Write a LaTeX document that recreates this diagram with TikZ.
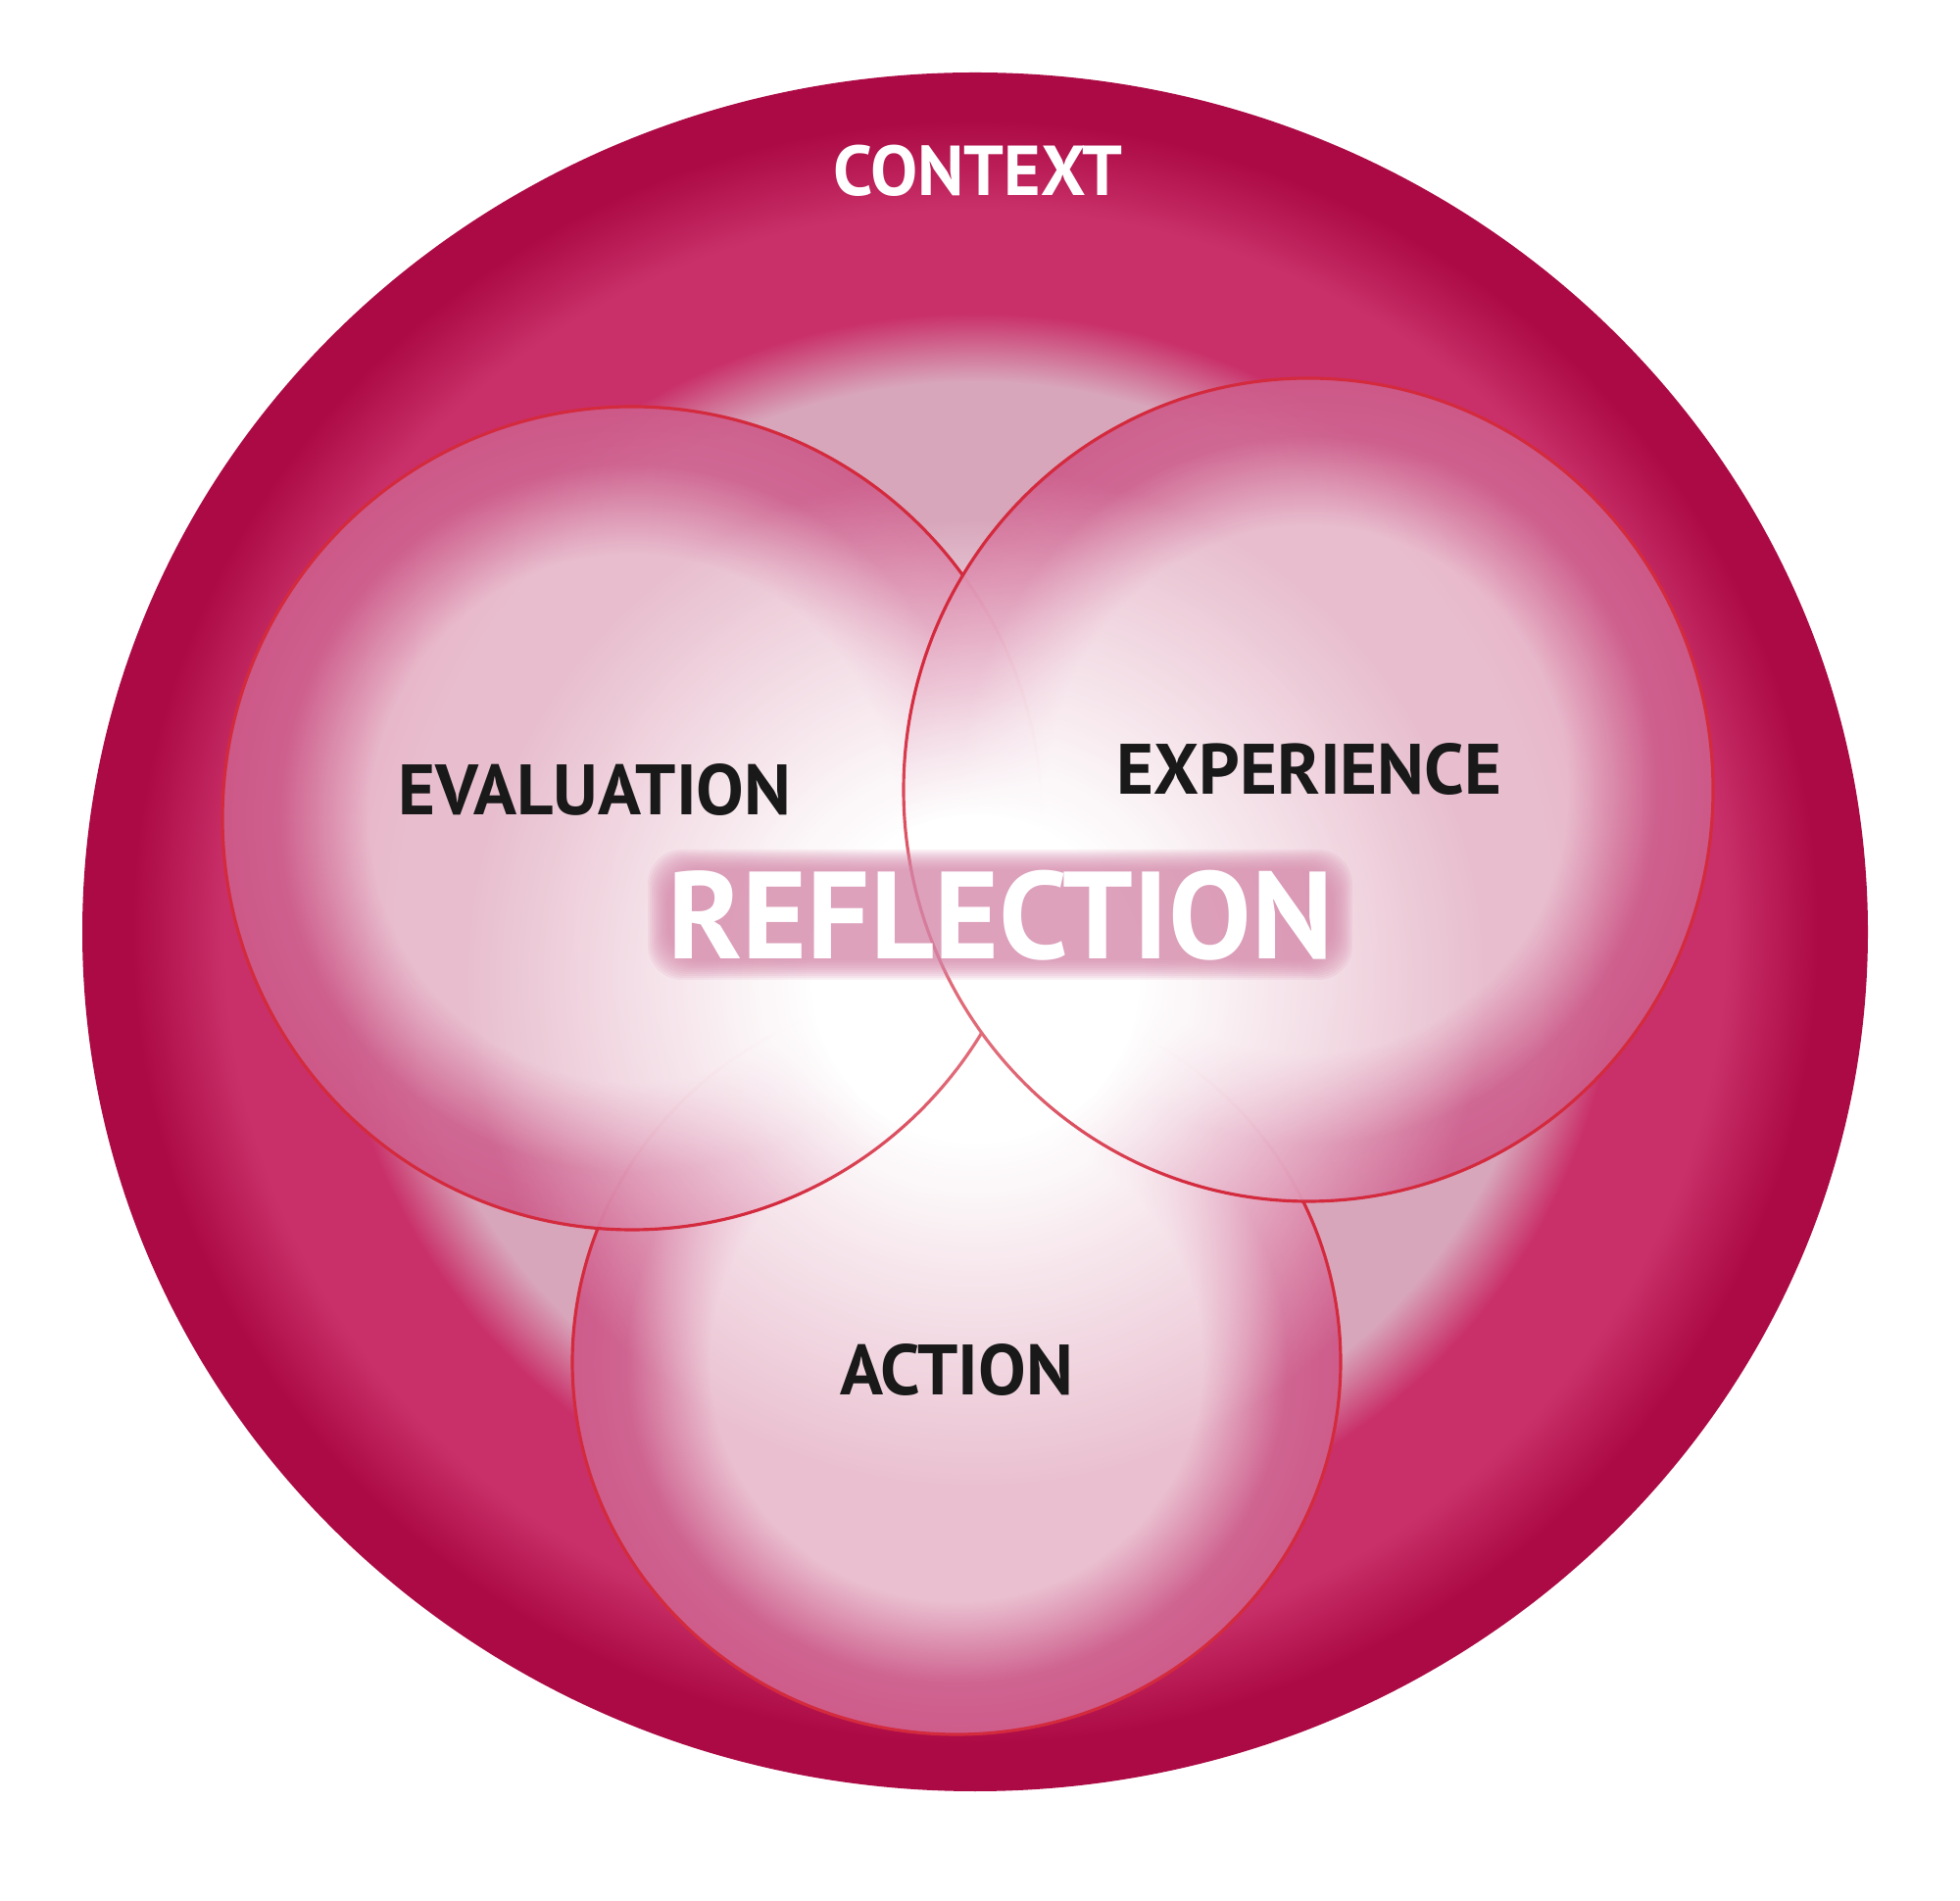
\documentclass[tikz,border=0pt]{standalone}
\usepackage{fontspec}
\setsansfont{PT Sans}
\usetikzlibrary{positioning,fadings}

\definecolor{ringdark}{RGB}{172,10,68}
\definecolor{ringpink}{RGB}{201,48,105}
\definecolor{ringgrey}{RGB}{216,166,187}
\definecolor{rimpink}{RGB}{207,100,145}
\definecolor{lightpink}{RGB}{234,192,208}
\definecolor{edgered}{RGB}{212,42,62}
\definecolor{halopink}{RGB}{214,136,170}

\pgfdeclareradialshading{contextring}{\pgfpoint{0bp}{0bp}}{color(0bp)=(white); color(6bp)=(white); color(12bp)=(ringgrey); color(16bp)=(ringgrey); color(18bp)=(ringpink); color(21bp)=(ringpink); color(23.6bp)=(ringdark); color(25bp)=(ringdark); color(50bp)=(ringdark)}
\pgfdeclareradialshading{petal}{\pgfpoint{0bp}{0bp}}{color(0bp)=(lightpink); color(16bp)=(lightpink); color(21.5bp)=(rimpink); color(25bp)=(rimpink!85!ringpink); color(50bp)=(rimpink)}
\pgfdeclareradialshading{glowshade}{\pgfpoint{0bp}{0bp}}{color(0bp)=(white); color(8bp)=(white); color(25bp)=(black); color(50bp)=(black)}
\pgfdeclarefading{glow fade}{\pgfuseshading{glowshade}}

\tikzset{
  petal line/.style={draw=edgered, line width=0.9pt},
  petal label/.style={font=\sffamily\bfseries\fontsize{20.7}{24}\selectfont, text=black!90, inner sep=0pt},
  ring label/.style={font=\sffamily\bfseries\fontsize{20.5}{24}\selectfont, text=white, inner sep=0pt},
  core label/.style={font=\sffamily\bfseries\fontsize{36}{40}\selectfont, text=white, inner sep=0pt}
}

\begin{document}
\begin{tikzpicture}[x=0.01cm, y=0.01cm]
    \useasboundingbox [fill=white] (0,0) rectangle (2000,1939);

    % Context ring
    \coordinate (ctx) at (995,988);
    \shade [shading=contextring] (ctx) ellipse [x radius=911, y radius=877];

    % Circle centres
    \coordinate (act) at (976,549);
    \coordinate (eva) at (645,1104);
    \coordinate (exp) at (1335,1133);
    \coordinate (glow) at (995,940);

    % Action
    \begin{scope}
        \clip (act) ellipse [x radius=392, y radius=380];
        \shade [shading=petal] (act) ellipse [x radius=392, y radius=380];
        \fill [white, path fading=glow fade] (glow) circle (520);
    \end{scope}
    \draw [petal line] (act) ellipse [x radius=392, y radius=380];

    % Evaluation
    \begin{scope}
        \clip (eva) ellipse [x radius=418, y radius=420];
        \shade [shading=petal, opacity=.93] (eva) ellipse [x radius=418, y radius=420];
        \fill [white, path fading=glow fade] (glow) circle (520);
    \end{scope}
    \draw [petal line] (eva) ellipse [x radius=418, y radius=420];

    % Experience
    \begin{scope}
        \clip (exp) ellipse [x radius=413, y radius=420];
        \shade [shading=petal, opacity=.93] (exp) ellipse [x radius=413, y radius=420];
        \fill [white, path fading=glow fade] (glow) circle (520);
    \end{scope}
    \draw [petal line] (exp) ellipse [x radius=413, y radius=420];

    % soften the middle
    \fill [white, opacity=.3, path fading=glow fade] (glow) circle (300);

    % Reflection halo
    \foreach \g in {0,2,...,20}
        \fill [halopink, opacity=.12, rounded corners=10] (681-\g,959-\g) rectangle (1360+\g,1052+\g);

    % Labels
    \node (context) [ring label] at (998,1765) {CONTEXT};
    \node (evaluation) [petal label] at (607,1133) {EVALUATION};
    \node (experience) [petal label] at (1336,1154) {EXPERIENCE};
    \node (action) [petal label] at (976,541) {ACTION};
    \node (reflection) [core label] at (1021,1005) {REFLECTION};
\end{tikzpicture}
\end{document}
